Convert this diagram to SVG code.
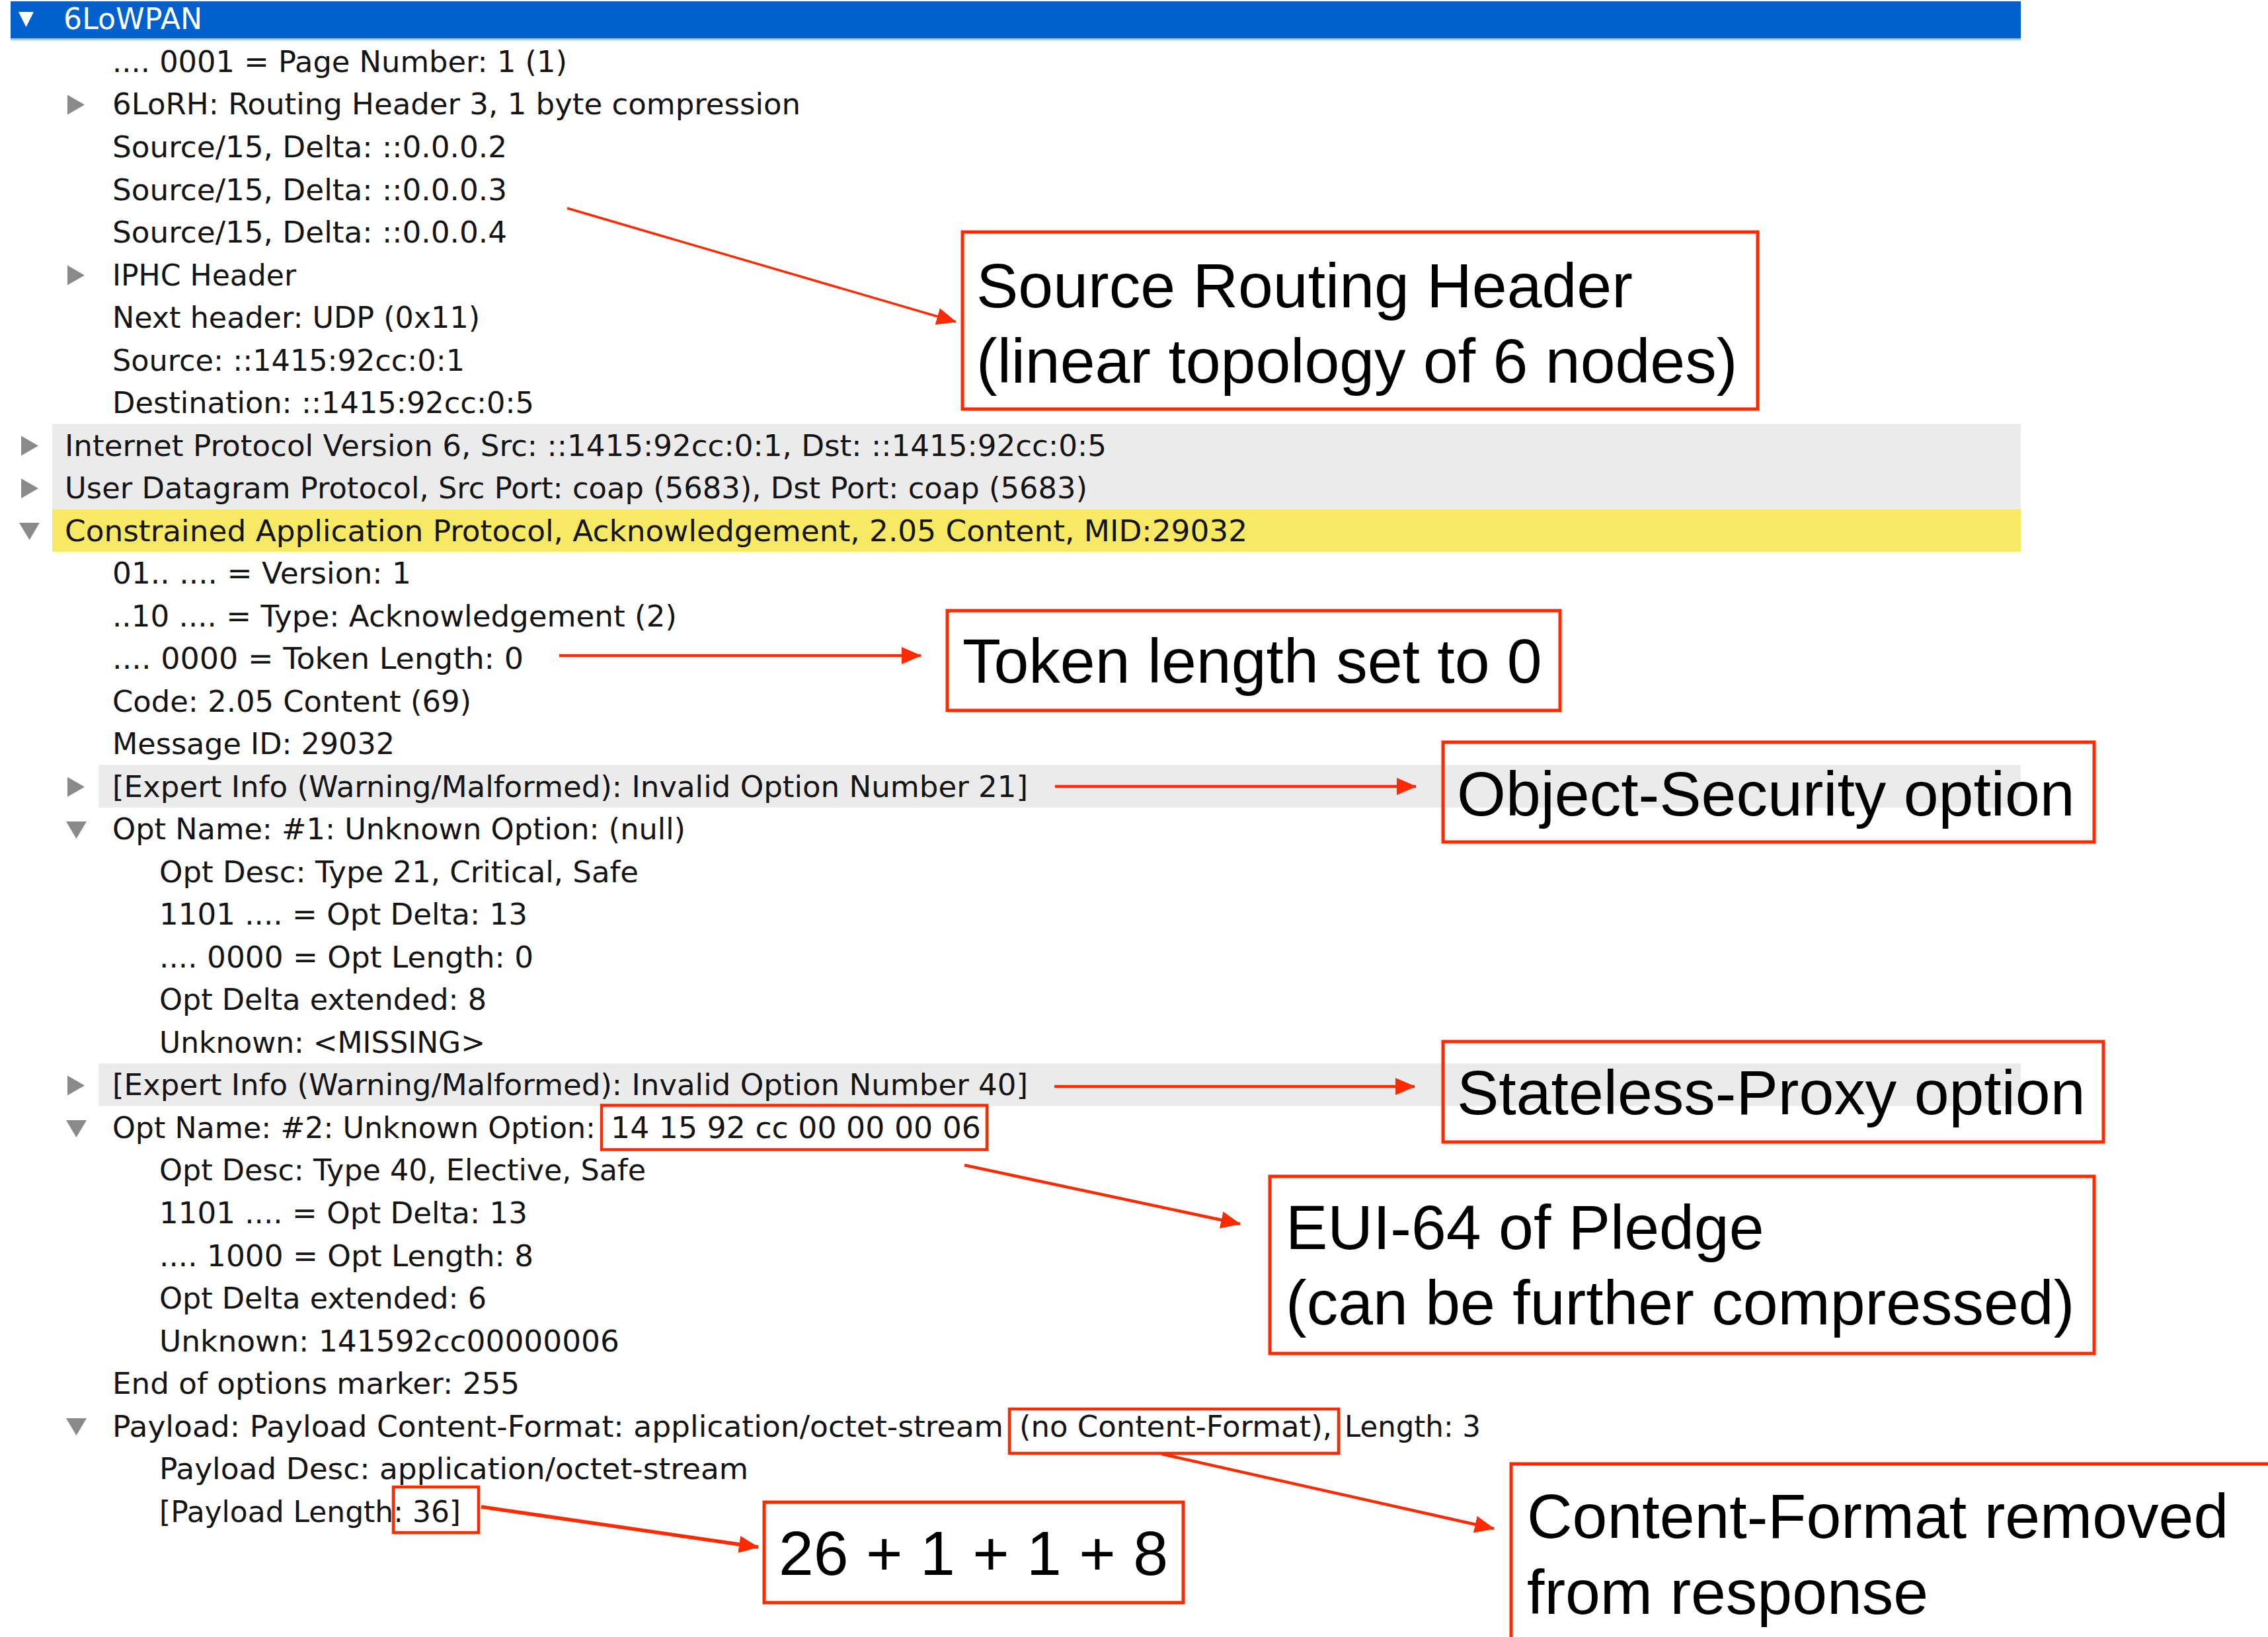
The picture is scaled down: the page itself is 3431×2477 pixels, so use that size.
<svg xmlns="http://www.w3.org/2000/svg" width="3431" height="2477" viewBox="0 0 3431 2477">
<style>
.t{font-family:"DejaVu Sans","Liberation Sans",sans-serif;font-size:44px;fill:#141414}
.h{font-family:"DejaVu Sans","Liberation Sans",sans-serif;font-size:44px;fill:#ffffff}
.a{font-family:"Liberation Sans",Arial,sans-serif;font-size:95px;fill:#000000}
.box{fill:none;stroke:#ff2a00;stroke-width:5}
.hl{fill:none;stroke:#ff2a00;stroke-width:4.5}
.tri{fill:#8a8a8a}
.gray{fill:#ebebeb}
.arr{fill:none;stroke:#ff2a00;stroke-width:4.5;marker-end:url(#ah)}
</style>
<defs>
<marker id="ah" markerUnits="userSpaceOnUse" markerWidth="30" markerHeight="26" refX="29" refY="13" orient="auto">
<path d="M0,0 L30,13 L0,26 z" fill="#ff2a00"/>
</marker>
</defs>
<rect width="3431" height="2477" fill="#ffffff"/>

<g id="packet-tree">
<rect x="16" y="2" width="3041" height="56" fill="#0061cc"/>
<rect x="16" y="58" width="3041" height="3" fill="#a9c8ee"/>
<polygon points="28,18 51,18 39.5,41" fill="#ffffff"/>
<text class="h" x="96" y="44.4" textLength="210" lengthAdjust="spacingAndGlyphs">6LoWPAN</text>

<rect class="gray" x="79" y="641.3" width="2978" height="129.1"/>
<rect x="79" y="770.4" width="2978" height="64.5" fill="#f7e963"/>
<rect class="gray" x="149" y="1157.5" width="2908" height="64.5"/>
<rect class="gray" x="149" y="1609.2" width="2908" height="64.5"/>

<polygon class="tri" points="102,143.5 128,158.5 102,173.5"/>
<polygon class="tri" points="102,401.5 128,416.5 102,431.5"/>
<polygon class="tri" points="32,659.6 58,674.6 32,689.6"/>
<polygon class="tri" points="32,724.1 58,739.1 32,754.1"/>
<polygon class="tri" points="29,791 60,791 44.5,817"/>
<polygon class="tri" points="102,1175.8 128,1190.8 102,1205.8"/>
<polygon class="tri" points="100,1243 131,1243 115.5,1269"/>
<polygon class="tri" points="102,1627.4 128,1642.4 102,1657.4"/>
<polygon class="tri" points="100,1695 131,1695 115.5,1721"/>
<polygon class="tri" points="100,2146 131,2146 115.5,2172"/>

<text class="t" x="170" y="108.9" textLength="688" lengthAdjust="spacingAndGlyphs">.... 0001 = Page Number: 1 (1)</text>
<text class="t" x="170" y="173.4" textLength="1041" lengthAdjust="spacingAndGlyphs">6LoRH: Routing Header 3, 1 byte compression</text>
<text class="t" x="170" y="238.0" textLength="597" lengthAdjust="spacingAndGlyphs">Source/15, Delta: ::0.0.0.2</text>
<text class="t" x="170" y="302.5" textLength="597" lengthAdjust="spacingAndGlyphs">Source/15, Delta: ::0.0.0.3</text>
<text class="t" x="170" y="367.0" textLength="597" lengthAdjust="spacingAndGlyphs">Source/15, Delta: ::0.0.0.4</text>
<text class="t" x="170" y="431.5" textLength="278" lengthAdjust="spacingAndGlyphs">IPHC Header</text>
<text class="t" x="170" y="496.0" textLength="556" lengthAdjust="spacingAndGlyphs">Next header: UDP (0x11)</text>
<text class="t" x="170" y="560.6" textLength="533" lengthAdjust="spacingAndGlyphs">Source: ::1415:92cc:0:1</text>
<text class="t" x="170" y="625.1" textLength="638" lengthAdjust="spacingAndGlyphs">Destination: ::1415:92cc:0:5</text>
<text class="t" x="98" y="689.6" textLength="1576" lengthAdjust="spacingAndGlyphs">Internet Protocol Version 6, Src: ::1415:92cc:0:1, Dst: ::1415:92cc:0:5</text>
<text class="t" x="98" y="754.1" textLength="1547" lengthAdjust="spacingAndGlyphs">User Datagram Protocol, Src Port: coap (5683), Dst Port: coap (5683)</text>
<text class="t" x="98" y="818.6" textLength="1789" lengthAdjust="spacingAndGlyphs">Constrained Application Protocol, Acknowledgement, 2.05 Content, MID:29032</text>
<text class="t" x="170" y="883.2" textLength="452" lengthAdjust="spacingAndGlyphs">01.. .... = Version: 1</text>
<text class="t" x="170" y="947.7" textLength="854" lengthAdjust="spacingAndGlyphs">..10 .... = Type: Acknowledgement (2)</text>
<text class="t" x="170" y="1012.2" textLength="622" lengthAdjust="spacingAndGlyphs">.... 0000 = Token Length: 0</text>
<text class="t" x="170" y="1076.7" textLength="543" lengthAdjust="spacingAndGlyphs">Code: 2.05 Content (69)</text>
<text class="t" x="170" y="1141.2" textLength="427" lengthAdjust="spacingAndGlyphs">Message ID: 29032</text>
<text class="t" x="170" y="1205.8" textLength="1385" lengthAdjust="spacingAndGlyphs">[Expert Info (Warning/Malformed): Invalid Option Number 21]</text>
<text class="t" x="170" y="1270.3" textLength="867" lengthAdjust="spacingAndGlyphs">Opt Name: #1: Unknown Option: (null)</text>
<text class="t" x="241" y="1334.8" textLength="725" lengthAdjust="spacingAndGlyphs">Opt Desc: Type 21, Critical, Safe</text>
<text class="t" x="241" y="1399.3" textLength="557" lengthAdjust="spacingAndGlyphs">1101 .... = Opt Delta: 13</text>
<text class="t" x="241" y="1463.8" textLength="566" lengthAdjust="spacingAndGlyphs">.... 0000 = Opt Length: 0</text>
<text class="t" x="241" y="1528.4" textLength="495" lengthAdjust="spacingAndGlyphs">Opt Delta extended: 8</text>
<text class="t" x="241" y="1592.9" textLength="493" lengthAdjust="spacingAndGlyphs">Unknown: &lt;MISSING&gt;</text>
<text class="t" x="170" y="1657.4" textLength="1385" lengthAdjust="spacingAndGlyphs">[Expert Info (Warning/Malformed): Invalid Option Number 40]</text>
<text class="t" x="170" y="1721.9" textLength="731" lengthAdjust="spacingAndGlyphs">Opt Name: #2: Unknown Option:</text>
<text class="t" x="924" y="1721.9" textLength="560" lengthAdjust="spacingAndGlyphs">14 15 92 cc 00 00 00 06</text>
<text class="t" x="241" y="1786.4" textLength="736" lengthAdjust="spacingAndGlyphs">Opt Desc: Type 40, Elective, Safe</text>
<text class="t" x="241" y="1851.0" textLength="557" lengthAdjust="spacingAndGlyphs">1101 .... = Opt Delta: 13</text>
<text class="t" x="241" y="1915.5" textLength="566" lengthAdjust="spacingAndGlyphs">.... 1000 = Opt Length: 8</text>
<text class="t" x="241" y="1980.0" textLength="495" lengthAdjust="spacingAndGlyphs">Opt Delta extended: 6</text>
<text class="t" x="241" y="2044.5" textLength="696" lengthAdjust="spacingAndGlyphs">Unknown: 141592cc00000006</text>
<text class="t" x="170" y="2109.0" textLength="616" lengthAdjust="spacingAndGlyphs">End of options marker: 255</text>
<text class="t" x="170" y="2173.6" textLength="1348" lengthAdjust="spacingAndGlyphs">Payload: Payload Content-Format: application/octet-stream</text>
<text class="t" x="1542" y="2173.6" textLength="473" lengthAdjust="spacingAndGlyphs">(no Content-Format),</text>
<text class="t" x="2034" y="2173.6" textLength="206" lengthAdjust="spacingAndGlyphs">Length: 3</text>
<text class="t" x="241" y="2238.1" textLength="891" lengthAdjust="spacingAndGlyphs">Payload Desc: application/octet-stream</text>
<text class="t" x="241" y="2302.6" textLength="456" lengthAdjust="spacingAndGlyphs">[Payload Length: 36]</text>

<rect class="hl" x="910" y="1672.5" width="583" height="67"/>
<rect class="hl" x="1527" y="2132" width="498" height="67"/>
<rect class="hl" x="595" y="2250" width="129" height="69"/>
</g>

<g id="node-source-routing">
<rect class="box" x="1456" y="351" width="1203" height="268"/>
<text class="a" x="1477" y="465">Source Routing Header</text>
<text class="a" x="1477" y="579">(linear topology of 6 nodes)</text>
</g>
<g id="node-token-length">
<rect class="box" x="1433" y="924" width="927" height="151"/>
<text class="a" x="1456" y="1033">Token length set to 0</text>
</g>
<g id="node-object-security">
<rect class="box" x="2183" y="1123" width="985" height="151"/>
<text class="a" x="2204" y="1234">Object-Security option</text>
</g>
<g id="node-stateless-proxy">
<rect class="box" x="2183" y="1576" width="999" height="152"/>
<text class="a" x="2204" y="1686">Stateless-Proxy option</text>
</g>
<g id="node-eui64">
<rect class="box" x="1921" y="1780" width="1247" height="268"/>
<text class="a" x="1945" y="1890">EUI-64 of Pledge</text>
<text class="a" x="1945" y="2004">(can be further compressed)</text>
</g>
<g id="node-content-format">
<rect class="box" x="2286" y="2215" width="1300" height="400"/>
<text class="a" x="2310" y="2327">Content-Format removed</text>
<text class="a" x="2310" y="2442">from response</text>
</g>
<g id="node-sum">
<rect class="box" x="1156" y="2273" width="634" height="152"/>
<text class="a" x="1178" y="2383">26 + 1 + 1 + 8</text>
</g>

<g id="connectors">
<line class="arr" x1="858" y1="315" x2="1446" y2="487" style="stroke-width:3.5"/>
<line class="arr" x1="846" y1="992" x2="1393" y2="992"/>
<line class="arr" x1="1596" y1="1190" x2="2142" y2="1190"/>
<line class="arr" x1="1595" y1="1644" x2="2140" y2="1644"/>
<line class="arr" x1="1459" y1="1763" x2="1876" y2="1852"/>
<line class="arr" x1="1757" y1="2200" x2="2260" y2="2313"/>
<line class="arr" x1="728" y1="2280" x2="1147" y2="2341" style="stroke-width:5.5"/>
</g>
</svg>
